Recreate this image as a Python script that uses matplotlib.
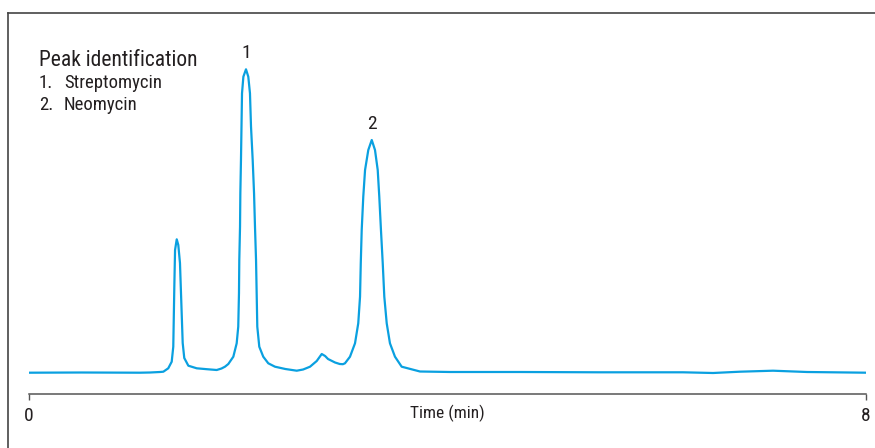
import matplotlib
matplotlib.use("Agg")
from matplotlib import pyplot as plt
from matplotlib.lines import Line2D

tempo = [0.0, 0.5, 1.061, 1.157, 1.252, 1.284, 1.331, 1.364, 1.379, 1.389,
         1.396, 1.412, 1.427, 1.443, 1.456, 1.469, 1.484, 1.523, 1.603, 1.70,
         1.794, 1.84, 1.873, 1.905, 1.953, 1.985, 2.000, 2.007, 2.010, 2.017,
         2.020, 2.026, 2.031, 2.036, 2.049, 2.074, 2.096, 2.112, 2.122, 2.138,
         2.151, 2.160, 2.170, 2.176, 2.182, 2.201, 2.239, 2.287, 2.351, 2.45,
         2.559, 2.62, 2.686, 2.75, 2.798, 2.83, 2.858, 2.925, 2.97, 3.00,
         3.020, 3.068, 3.116, 3.147, 3.164, 3.171, 3.180, 3.195, 3.212, 3.243,
         3.276, 3.307, 3.333, 3.348, 3.364, 3.381, 3.396, 3.419, 3.450, 3.498,
         3.562, 3.737, 4.024, 4.693, 5.458, 6.251, 6.538, 6.796, 7.111, 7.436,
         8.0]
risposta = [-0.7, -0.5, -0.7, -0.5, 0.0, 0.3, 3.7, 10.3, 25.3, 85.3,
            122.0, 132.7, 127.0, 109.0, 69.0, 29.0, 14.0, 6.3, 3.7, 2.8,
            2.0, 3.5, 5.3, 8.0, 15.3, 28.7, 45.3, 79.0, 112.0, 145.3,
            178.7, 212.0, 245.3, 278.7, 295.3, 302.7, 295.3, 278.7, 245.3, 212.0,
            178.7, 145.3, 112.0, 78.7, 45.3, 25.3, 15.3, 8.7, 5.3, 3.0,
            1.3, 2.5, 5.3, 11.0, 18.0, 16.0, 13.0, 9.5, 8.0, 7.8,
            8.7, 15.3, 28.7, 48.7, 75.3, 108.7, 142.0, 175.3, 202.0, 222.0,
            232.0, 222.0, 202.0, 175.3, 142.0, 108.7, 75.3, 48.7, 28.7, 15.3,
            5.3, 0.5, 0.0, 0.0, -0.3, -0.3, -1.0, 0.3, 1.3, 0.0,
            -0.7]

picchi_tempo = [2.074, 3.276]
picchi_risposta = [302.7, 232.0]
picchi_etichette = ["1", "2"]

composti = ["Streptomycin", "Neomycin"]
tick_valori = [0, 8]
tick_etichette = ["0", "8"]

FONT = ["Liberation Sans Narrow", "Roboto Condensed", "DejaVu Sans"]
plt.rcParams["font.family"] = FONT
TESTO = "#231f20"
BLU = "#0aa0e0"

fig = plt.figure(figsize=(8.75, 4.48), dpi=100)
W, H = 875, 448


def fx(px):
    return px / W


def fy(py):
    return 1 - py / H


# cornice esterna (solo lato sinistro e superiore)
fig.add_artist(Line2D([fx(8), fx(8)], [fy(13), 0], color="#444444", lw=1.2))
fig.add_artist(Line2D([fx(8), 1], [fy(13), fy(13)], color="#444444", lw=1.2))

ax = fig.add_axes([fx(29), fy(394), fx(866) - fx(29), fy(40) - fy(394)])
ax.plot(tempo, risposta, color=BLU, lw=1.6, solid_joinstyle="round")
ax.set_xlim(0, 8)
ax.set_ylim(-22, 332)

for lato in ["top", "right", "left"]:
    ax.spines[lato].set_visible(False)
ax.spines["bottom"].set_color("#555555")
ax.spines["bottom"].set_linewidth(1.1)
ax.set_yticks([])
ax.set_xticks(tick_valori)
ax.set_xticklabels(tick_etichette)
ax.tick_params(axis="x", direction="out", length=4.5, width=1, color="#555555",
               pad=5, labelsize=14, labelcolor=TESTO)

for t, r, lab in zip(picchi_tempo, picchi_risposta, picchi_etichette):
    ax.annotate(lab, (t, r), xytext=(0, 5), textcoords="offset points",
                ha="center", va="bottom", fontsize=14, color=TESTO)

fig.text(fx(447), fy(413), "Time (min)", ha="center", va="center",
         fontsize=12.5, color=TESTO)

fig.text(fx(39), fy(66), "Peak identification", ha="left", va="baseline",
         fontsize=15.5, color=TESTO)
for i, nome in enumerate(composti):
    yb = fy(88 + 22 * i)
    fig.text(fx(39), yb, f"{i + 1}.", ha="left", va="baseline", fontsize=13.5, color=TESTO)
    fig.text(fx(64), yb, nome, ha="left", va="baseline", fontsize=13.5, color=TESTO)

fig.savefig("out.png", dpi=100)
